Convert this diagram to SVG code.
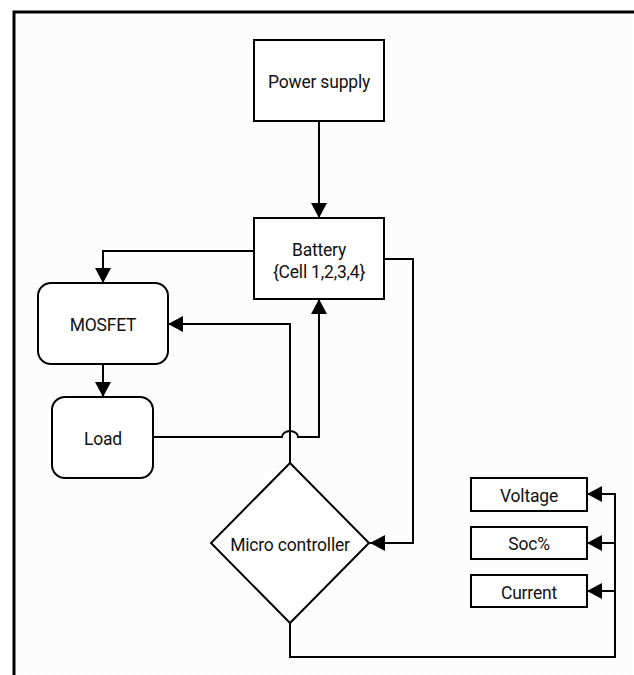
<svg xmlns="http://www.w3.org/2000/svg" width="634" height="675" viewBox="0 0 634 675">
<style>
.n{fill:#fff;stroke:#000;stroke-width:2}
.t{font-family:Roboto,"Liberation Sans",sans-serif;font-size:17.5px;letter-spacing:-0.2px;fill:#111;text-anchor:middle}
.c{fill:none;stroke:#000;stroke-width:2}
.a{marker-end:url(#ah)}
</style>
<defs>
<pattern id="g" width="8" height="8" patternUnits="userSpaceOnUse" x="14" y="12">
<path d="M8,0V8M0,8H8" fill="none" stroke="#f3f3f3" stroke-width="1"/>
</pattern>
<marker id="ah" viewBox="0 0 15 16" refX="15" refY="8" markerWidth="15" markerHeight="16" markerUnits="userSpaceOnUse" orient="auto">
<path d="M0,0L15,8L0,16z" fill="#000"/>
</marker>
</defs>
<rect width="634" height="675" fill="#fff"/>
<rect x="14" y="12" width="640" height="700" fill="url(#g)" stroke="#000" stroke-width="3"/>
<g id="connectors">
<path class="c a" d="M319,121V218"/>
<path class="c a" d="M254,251H103V283"/>
<path class="c a" d="M103,364V397"/>
<path class="c a" d="M290,463V324H168"/>
<path class="c a" d="M153,437H282A8,6 0 0 1 298,437H319V299"/>
<path class="c a" d="M384,259H413V543H370"/>
<path class="c a" d="M290,623V657H615V494H587"/>
<path class="c a" d="M615,543H587"/>
<path class="c a" d="M615,591H587"/>
</g>
<g id="power-supply">
<rect class="n" x="254" y="40" width="130" height="81"/>
<text class="t" x="319" y="88">Power supply</text>
</g>
<g id="battery">
<rect class="n" x="254" y="218" width="130" height="81"/>
<text class="t" x="319" y="256">Battery</text>
<text class="t" x="319" y="278">{Cell 1,2,3,4}</text>
</g>
<g id="mosfet">
<rect class="n" x="38" y="283" width="130" height="81" rx="13"/>
<text class="t" x="103" y="331">MOSFET</text>
</g>
<g id="load">
<rect class="n" x="52" y="397" width="101" height="81" rx="13"/>
<text class="t" x="103" y="445">Load</text>
</g>
<g id="micro-controller">
<path class="n" d="M290,463L369,543L290,623L211,543Z"/>
<text class="t" x="290" y="551">Micro controller</text>
</g>
<g id="voltage">
<rect class="n" x="471" y="478" width="116" height="33"/>
<text class="t" x="529" y="502">Voltage</text>
</g>
<g id="soc">
<rect class="n" x="471" y="527" width="116" height="32"/>
<text class="t" x="529" y="550">Soc%</text>
</g>
<g id="current">
<rect class="n" x="471" y="575" width="116" height="32"/>
<text class="t" x="529" y="599">Current</text>
</g>
</svg>
